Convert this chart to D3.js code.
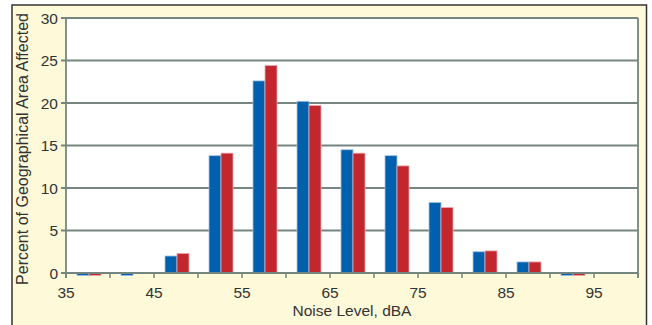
<!DOCTYPE html>
<html><head><meta charset="utf-8">
<script src="https://cdn.jsdelivr.net/npm/d3@7"></script>
<style>
html,body{margin:0;padding:0;background:#fff;}
svg{display:block;}
text{font-family:"Liberation Sans",Arial,Helvetica,sans-serif;fill:#333;}
</style></head>
<body>
<svg id="chart" width="652" height="325"></svg>
<script>
const categories = [35,40,45,50,55,60,65,70,75,80,85,90,95];
const series1 = [-0.3,-0.3,2.0,13.8,22.6,20.2,14.5,13.8,8.3,2.5,1.3,-0.3,0];
const series2 = [-0.3,0,2.3,14.1,24.4,19.7,14.1,12.6,7.7,2.6,1.3,-0.3,0];
const seriesNames = ["Series 1","Series 2"];
const yTicks = [0,5,10,15,20,25,30];
const xTickValues = [35,40,45,50,55,60,65,70,75,80,85,90,95,100];
const xTickLabels = [35,45,55,65,75,85,95];

const svg = d3.select("#chart");
const L=66, R=638, T=18, B=273;

// outer frame
svg.append("rect").attr("x",12).attr("y",5).attr("width",634.5).attr("height",330)
  .attr("fill","#FEF9D8").attr("stroke","#333").attr("stroke-width",1.5);
// plot area
svg.append("rect").attr("x",L).attr("y",T).attr("width",R-L).attr("height",B-T).attr("fill","#fff");

const y = d3.scaleLinear().domain([0,30]).range([B,T]);
const x = d3.scaleLinear().domain([35,100]).range([L,R]);
const xb = d3.scaleBand().domain(categories).range([L,R]).padding(0);
const xs = d3.scaleBand().domain(seriesNames).range([11,35]).padding(0);

const grid="#74867F";
// gridlines + y ticks
svg.append("g").selectAll("line").data(yTicks).join("line")
  .attr("x1",L-5).attr("x2",R).attr("y1",d=>y(d)).attr("y2",d=>y(d))
  .attr("stroke",grid).attr("stroke-width",1.8);
svg.append("g").selectAll("text").data(yTicks).join("text")
  .attr("x",L-8).attr("y",d=>y(d)+5.5).attr("text-anchor","end")
  .attr("font-size",15.5).text(d=>d);

// bars
const data = categories.map((c,i)=>({c, vals:[series1[i],series2[i]]}));
const colors = ["#0060AE","#C1272D"];
const strokes = ["#9FC2E6","#EBA9AD"];
const g = svg.append("g");
data.forEach(d=>{
  d.vals.forEach((v,j)=>{
    if(v===0) return;
    g.append("rect")
      .attr("x",xb(d.c)+xs(seriesNames[j]))
      .attr("width",xs.bandwidth())
      .attr("y",Math.min(y(v),y(0)))
      .attr("height",Math.abs(y(v)-y(0)))
      .attr("fill",colors[j]).attr("stroke",strokes[j]).attr("stroke-width",0.8);
  });
});

// axes lines
svg.append("line").attr("x1",L).attr("x2",L).attr("y1",T).attr("y2",B+5).attr("stroke",grid).attr("stroke-width",1.8);
svg.append("line").attr("x1",R).attr("x2",R).attr("y1",T).attr("y2",B+5).attr("stroke",grid).attr("stroke-width",1.8);
svg.append("line").attr("x1",L).attr("x2",R).attr("y1",B).attr("y2",B).attr("stroke",grid).attr("stroke-width",1.8);
svg.append("g").selectAll("line").data(xTickValues).join("line")
  .attr("x1",d=>x(d)).attr("x2",d=>x(d)).attr("y1",B).attr("y2",B+5)
  .attr("stroke",grid).attr("stroke-width",1.5);
svg.append("g").selectAll("text").data(xTickLabels).join("text")
  .attr("x",d=>x(d)).attr("y",B+25).attr("text-anchor","middle")
  .attr("font-size",15.5).text(d=>d);

// titles
svg.append("text").attr("x",(L+R)/2).attr("y",316).attr("text-anchor","middle")
  .attr("font-size",15.5).text("Noise Level, dBA");
svg.append("text").attr("transform","translate(28,149) rotate(-90)")
  .attr("text-anchor","middle").attr("font-size",16)
  .text("Percent of Geographical Area Affected");
</script>
</body></html>
